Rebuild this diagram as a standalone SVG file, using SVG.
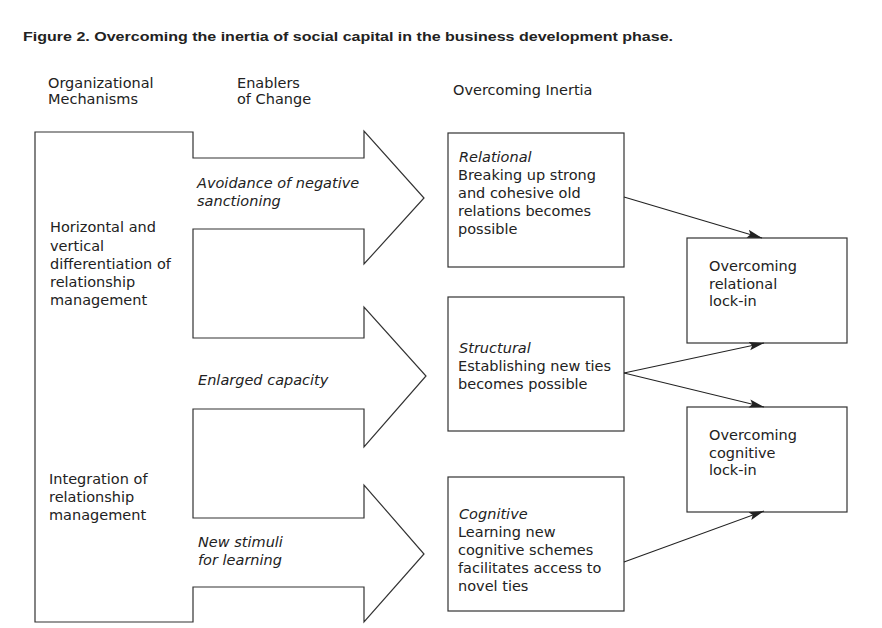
<svg xmlns="http://www.w3.org/2000/svg" width="882" height="628" viewBox="0 0 882 628">
<style>
  .t { font-family: "DejaVu Sans", "Liberation Sans", sans-serif; font-size: 14.5px; fill: #222; }
  .i { font-style: italic; }
  .title { font-family: "Liberation Sans", Arial, sans-serif; font-weight: bold; font-size: 13.5px; fill: #222; }
  .shape { fill: #fff; stroke: #333; stroke-width: 1.2; }
  .conn { fill: none; stroke: #222; stroke-width: 1.1; marker-end: url(#ah); }
</style>
<defs>
  <marker id="ah" markerUnits="userSpaceOnUse" markerWidth="16" markerHeight="10" refX="15" refY="5" orient="auto">
    <path d="M0,0.8 L15,5 L0,9.2 L3,5 Z" fill="#222"/>
  </marker>
</defs>
<rect width="882" height="628" fill="#fff"/>

<text class="title" x="23" y="41" textLength="650" lengthAdjust="spacingAndGlyphs">Figure 2. Overcoming the inertia of social capital in the business development phase.</text>

<g id="headers">
  <text class="t" x="48" y="88">Organizational</text>
  <text class="t" x="48" y="104">Mechanisms</text>
  <text class="t" x="237" y="88">Enablers</text>
  <text class="t" x="237" y="104">of Change</text>
  <text class="t" x="453" y="95">Overcoming Inertia</text>
</g>

<g id="mechanisms">
  <path class="shape" d="M35,132 H193 V158 H364 V131 L424,198 L364,264 V229 H193 V338 H364 V307 L426,376 L364,447 V409 H193 V518 H364 V485 L424,554 L364,622 V587 H193 V622 H35 Z"/>
  <text class="t" x="50" y="232">Horizontal and</text>
  <text class="t" x="50" y="250.5">vertical</text>
  <text class="t" x="50" y="268.5">differentiation of</text>
  <text class="t" x="50" y="287">relationship</text>
  <text class="t" x="50" y="305">management</text>
  <text class="t" x="49" y="484">Integration of</text>
  <text class="t" x="49" y="502">relationship</text>
  <text class="t" x="49" y="520">management</text>
</g>

<g id="enabler-avoidance">
  <text class="t i" x="197" y="188">Avoidance of negative</text>
  <text class="t i" x="197" y="206">sanctioning</text>
</g>
<g id="enabler-capacity">
  <text class="t i" x="198" y="385">Enlarged capacity</text>
</g>
<g id="enabler-stimuli">
  <text class="t i" x="198" y="546.5">New stimuli</text>
  <text class="t i" x="198" y="564.5">for learning</text>
</g>

<g id="relational">
  <rect class="shape" x="448" y="133" width="176" height="134"/>
  <text class="t i" x="459" y="162">Relational</text>
  <text class="t" x="458" y="180">Breaking up strong</text>
  <text class="t" x="458" y="198">and cohesive old</text>
  <text class="t" x="458" y="216">relations becomes</text>
  <text class="t" x="458" y="234">possible</text>
</g>

<g id="structural">
  <rect class="shape" x="448" y="297" width="176" height="134"/>
  <text class="t i" x="459" y="353">Structural</text>
  <text class="t" x="458" y="371">Establishing new ties</text>
  <text class="t" x="458" y="389">becomes possible</text>
</g>

<g id="cognitive">
  <rect class="shape" x="448" y="477" width="176" height="134"/>
  <text class="t i" x="459" y="519">Cognitive</text>
  <text class="t" x="458" y="537">Learning new</text>
  <text class="t" x="458" y="555">cognitive schemes</text>
  <text class="t" x="458" y="573">facilitates access to</text>
  <text class="t" x="458" y="591">novel ties</text>
</g>

<g id="relational-lockin">
  <rect class="shape" x="687" y="238" width="160" height="105"/>
  <text class="t" x="709" y="271">Overcoming</text>
  <text class="t" x="709" y="288.5">relational</text>
  <text class="t" x="709" y="306">lock-in</text>
</g>

<g id="cognitive-lockin">
  <rect class="shape" x="687" y="407" width="160" height="105"/>
  <text class="t" x="709" y="440">Overcoming</text>
  <text class="t" x="709" y="457.5">cognitive</text>
  <text class="t" x="709" y="475">lock-in</text>
</g>

<g id="connectors">
  <line class="conn" x1="624" y1="197" x2="762" y2="238"/>
  <line class="conn" x1="624" y1="373" x2="764" y2="343"/>
  <line class="conn" x1="624" y1="373" x2="764" y2="407"/>
  <line class="conn" x1="624" y1="562" x2="764" y2="511"/>
</g>
</svg>
